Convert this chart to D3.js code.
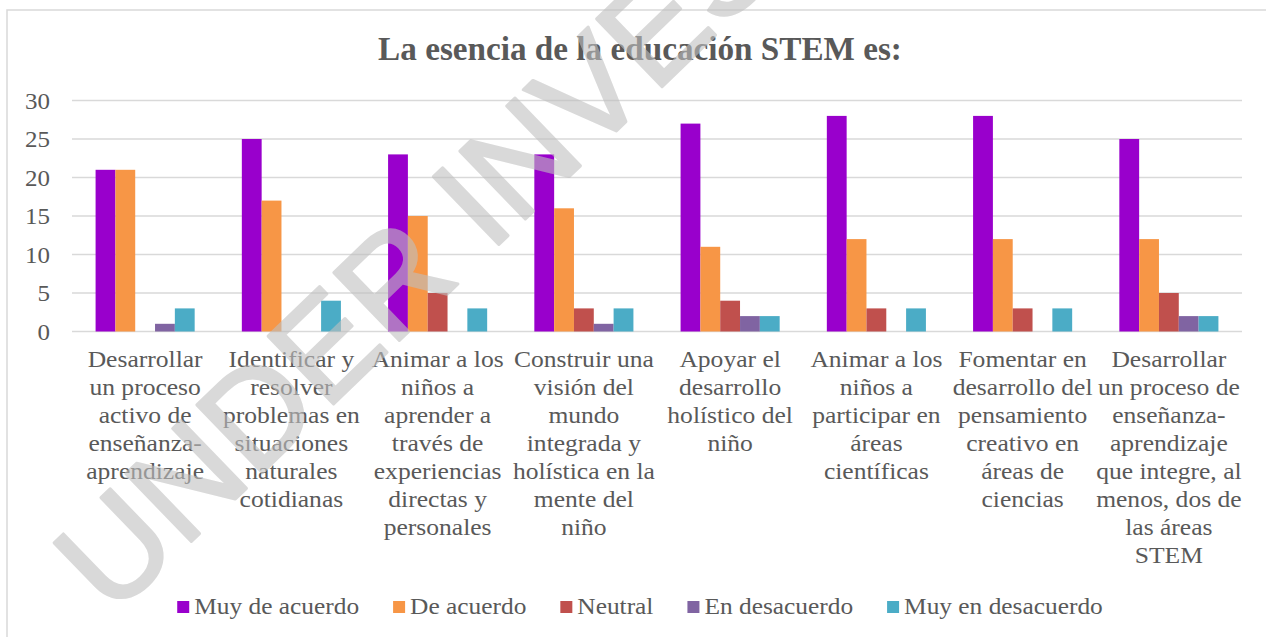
<!DOCTYPE html>
<html>
<head>
<meta charset="utf-8">
<script src="https://cdn.jsdelivr.net/npm/d3@7"></script>
<style>
  body { margin: 0; background: #fff; }
  svg { display: block; }
  text { font-family: "Liberation Serif", "DejaVu Serif", "Noto Serif", serif; fill: #595959; }
</style>
</head>
<body>
<svg id="chart"></svg>
<script>
// chart data
const categories = [
    ["Desarrollar", "un proceso", "activo de", "enseñanza-", "aprendizaje"],
    ["Identificar y", "resolver", "problemas en", "situaciones", "naturales", "cotidianas"],
    ["Animar a los", "niños a", "aprender a", "través de", "experiencias", "directas y", "personales"],
    ["Construir una", "visión del", "mundo", "integrada y", "holística en la", "mente del", "niño"],
    ["Apoyar el", "desarrollo", "holístico del", "niño"],
    ["Animar a los", "niños a", "participar en", "áreas", "científicas"],
    ["Fomentar en", "desarrollo del", "pensamiento", "creativo en", "áreas de", "ciencias"],
    ["Desarrollar", "un proceso de", "enseñanza-", "aprendizaje", "que integre, al", "menos, dos de", "las áreas", "STEM"]
];
const seriesNames = ["Muy de acuerdo", "De acuerdo", "Neutral", "En desacuerdo", "Muy en desacuerdo"];
const seriesColors = ["#9900cc", "#f79646", "#c0504d", "#8064a2", "#4bacc6"];

const muyDeAcuerdo    = [21, 25, 23, 23, 27, 28, 28, 25];
const deAcuerdo       = [21, 17, 15, 16, 11, 12, 12, 12];
const neutral         = [0, 0, 5, 3, 4, 3, 3, 5];
const enDesacuerdo    = [1, 0, 0, 1, 2, 0, 0, 2];
const muyEnDesacuerdo = [3, 4, 3, 3, 2, 3, 3, 2];
const seriesValues = [muyDeAcuerdo, deAcuerdo, neutral, enDesacuerdo, muyEnDesacuerdo];

const yTicks = [0, 5, 10, 15, 20, 25, 30];
const chartTitle = "La esencia de la educación STEM es:";
const watermark = "UNDER INVESTIGATION";

const config = {
    width: 1266,
    height: 637,
    margin: { top: 100.5, right: 24, bottom: 305.5, left: 72 }
};

const svg = d3.select("#chart")
    .attr("width", config.width)
    .attr("height", config.height);

const innerW = config.width - config.margin.left - config.margin.right;
const innerH = config.height - config.margin.top - config.margin.bottom;

// horizontal squeeze so whatever serif face is present matches the reference widths
function fitScale(sample, size, weight, target) {
    const t = svg.append("text")
        .style("font-size", size + "px")
        .style("font-weight", weight)
        .text(sample);
    const w = t.node().getComputedTextLength();
    t.remove();
    return w > 0 ? target / w : 1;
}
const kLabel = fitScale("Desarrollar", 24, "normal", 115);
const kTitle = fitScale(chartTitle, 33, "bold", 524);
const kLegend = fitScale("Muy de acuerdo", 24, "normal", 165);
const kTick = fitScale("30", 24, "normal", 25);

// outer frame of the chart area
svg.append("rect")
    .attr("x", 7).attr("y", 10)
    .attr("width", 1300).attr("height", 700)
    .attr("fill", "none")
    .attr("stroke", "#d9d9d9")
    .attr("stroke-width", 1.5);

svg.append("text")
    .attr("transform", `translate(640,60) scale(${kTitle},1)`)
    .attr("text-anchor", "middle")
    .style("font-size", "33px")
    .style("font-weight", "bold")
    .text(chartTitle);

const chart = svg.append("g")
    .attr("transform", `translate(${config.margin.left},${config.margin.top})`);

// scales
const x0 = d3.scaleBand()
    .domain(d3.range(categories.length))
    .range([0, innerW])
    .padding(0);

const x1 = d3.scaleBand()
    .domain(d3.range(seriesNames.length))
    .range([0, x0.bandwidth()])
    .paddingInner(0)
    .paddingOuter(1.19);

const y = d3.scaleLinear()
    .domain([0, 30])
    .range([innerH, 0]);

// gridlines
chart.selectAll(".grid")
    .data(yTicks)
    .enter()
    .append("line")
    .attr("class", "grid")
    .attr("x1", 0).attr("x2", innerW)
    .attr("y1", d => y(d)).attr("y2", d => y(d))
    .attr("stroke", "#d9d9d9")
    .attr("stroke-width", 1.5);

// y axis labels
const yAxis = d3.axisLeft(y).tickValues(yTicks).tickSize(0).tickPadding(0);
const yAxisG = chart.append("g").call(yAxis);
yAxisG.select(".domain").remove();
yAxisG.attr("font-family", null).attr("font-size", null);
yAxisG.selectAll("text")
    .attr("x", null)
    .attr("dy", "0.33em")
    .attr("transform", `translate(-22,0) scale(${kTick},1)`)
    .style("font-size", "24px")
    .attr("fill", "#595959");

// bars
const barData = [];
categories.forEach((c, ci) => {
    seriesValues.forEach((vals, si) => {
        barData.push({ cat: ci, series: si, value: vals[ci] });
    });
});

chart.selectAll(".bar")
    .data(barData.filter(d => d.value > 0))
    .enter()
    .append("rect")
    .attr("class", "bar")
    .attr("x", d => x0(d.cat) + x1(d.series))
    .attr("y", d => y(d.value))
    .attr("width", x1.bandwidth())
    .attr("height", d => y(0) - y(d.value))
    .attr("fill", d => seriesColors[d.series]);

// category labels (multi line)
const labels = chart.selectAll(".cat-label")
    .data(categories)
    .enter()
    .append("text")
    .attr("class", "cat-label")
    .attr("text-anchor", "middle")
    .attr("transform", (d, i) => `translate(${x0(i) + x0.bandwidth() / 2},0) scale(${kLabel},1)`)
    .style("font-size", "24px");

labels.selectAll("tspan")
    .data(d => d)
    .enter()
    .append("tspan")
    .attr("x", 0)
    .attr("y", (d, j) => 367 - config.margin.top + j * 28)
    .text(d => d);

// legend
const legend = svg.append("g").attr("class", "legend");
const items = legend.selectAll(".legend-item")
    .data(seriesNames)
    .enter()
    .append("g")
    .attr("class", "legend-item");

items.append("rect")
    .attr("width", 12).attr("height", 12)
    .attr("y", 601)
    .attr("fill", (d, i) => seriesColors[i]);

items.append("text")
    .attr("transform", `translate(17,614) scale(${kLegend},1)`)
    .style("font-size", "24px")
    .text(d => d);

// lay out legend items from measured text widths, centred
const widths = [];
items.each(function () {
    widths.push(17 + kLegend * d3.select(this).select("text").node().getComputedTextLength());
});
const gap = 34;
const total = d3.sum(widths) + gap * (widths.length - 1);
let cursor = 640 - total / 2;
items.attr("transform", (d, i) => {
    const tx = cursor;
    cursor += widths[i] + gap;
    return `translate(${tx},0)`;
});

// watermark drawn on top
svg.append("text")
    .attr("transform", "translate(112,618) rotate(-44)")
    .style("font-family", "Liberation Sans, Arial, sans-serif")
    .style("font-size", "137px")
    .style("fill", "#c0c0c0")
    .style("stroke", "#c0c0c0")
    .style("stroke-width", 3)
    .style("stroke-linejoin", "round")
    .style("opacity", 0.6)
    .text(watermark);
</script>
</body>
</html>
